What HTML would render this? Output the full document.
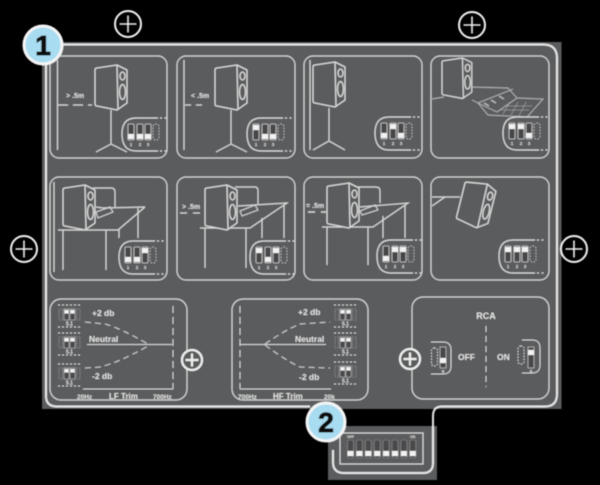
<!DOCTYPE html>
<html><head><meta charset="utf-8"><style>
html,body{margin:0;padding:0;background:#000;width:600px;height:485px;overflow:hidden}
svg{display:block}
text{font-family:"Liberation Sans",sans-serif;font-weight:bold;fill:#e4e4e4}
</style></head><body>
<svg width="600" height="485" viewBox="0 0 600 485" xmlns="http://www.w3.org/2000/svg">
<defs>
<filter id="b" x="-2%" y="-2%" width="104%" height="104%"><feGaussianBlur stdDeviation="0.6"/></filter>
<g id="spk" fill="none" stroke="#dcdcdc" stroke-width="1.3" stroke-linejoin="round">
<path d="M2,3 L22,0 L32,5 L32,38 L22,45 L2,41 Q0,41 0,39 L0,5 Q0,3 2,3Z" fill="#5a5b5d"/>
<path d="M22,0 L23,45"/>
<ellipse cx="27.5" cy="11" rx="2.5" ry="4"/>
<ellipse cx="27.5" cy="27" rx="3" ry="7.5"/>
</g>
<g id="dip">
<path d="M36,0 H14 Q0,0 0,16 Q0,33 14,33 H36" fill="#5a5b5d" stroke="#dcdcdc" stroke-width="1.2"/>
<path d="M38,0 H46 M38,33 H46" stroke="#dcdcdc" stroke-width="1.2" stroke-dasharray="2 2.5" fill="none"/>
<g fill="#47474a" stroke="#cccccc" stroke-width=".8">
<rect x="6" y="6" width="6" height="16" rx="1"/><rect x="15" y="6" width="6" height="16" rx="1"/><rect x="23" y="6" width="6" height="16" rx="1"/>
</g>
<rect x="31" y="6" width="6" height="16" rx="2.5" fill="none" stroke="#d0d0d0" stroke-width=".8" stroke-dasharray="1.5 1.5"/>
<text x="9" y="28" font-size="4.5" text-anchor="middle">1</text><text x="18" y="28" font-size="4.5" text-anchor="middle">2</text><text x="26" y="28" font-size="4.5" text-anchor="middle">3</text>
</g>
<rect id="k" width="6" height="5" fill="#f2f2f2"/>
<g id="mini">
<path d="M0,0 H22 M0,22 H22" stroke="#d8d8d8" stroke-width="1" stroke-dasharray="2 2" fill="none"/>
<g fill="#47474a" stroke="#c4c4c4" stroke-width=".6">
<rect x="6" y="4" width="5" height="11"/><rect x="12" y="4" width="5" height="11"/></g>
<g fill="none" stroke="#b4b4b4" stroke-width=".6" stroke-dasharray="1.2 1.2">
<rect x="1" y="4" width="3.5" height="11"/><rect x="18.5" y="4" width="3.5" height="11"/></g>
<rect x="6.5" y="5" width="4" height="3.5" fill="#f2f2f2"/><rect x="12.5" y="5" width="4" height="3.5" fill="#f2f2f2"/>
<text x="11.5" y="20.5" font-size="5" text-anchor="middle">5.1</text>
</g>
<g id="plus" fill="none" stroke="#f0f0f0">
<circle r="13" stroke-width="2"/><path d="M-8.5,0H8.5M0,-8.5V8.5" stroke-width="1.6"/>
</g>
<g id="plus2" stroke="#f0f0f0">
<circle r="10" stroke-width="2.2" fill="#5a5b5d"/><path d="M-6.5,0H6.5M0,-6.5V6.5" stroke-width="2.2"/>
</g>
<g id="sw8">
<rect width="6" height="18" rx="1.5" fill="#4a4a4c" stroke="#8f8f8f" stroke-width=".6"/>
<rect y="11" width="6" height="5" fill="#f2f2f2"/>
</g>
</defs>
<rect width="600" height="485" fill="#000"/>
<g filter="url(#b)">
<rect x="42" y="42" width="519.5" height="367" fill="#5a5b5d"/>
<rect x="328" y="426" width="109" height="54" fill="#5a5b5d"/>
<path d="M46,60 V396 Q46,406.5 57,406.5 H310 M60,44.5 H543 Q557,44.5 557,58 V394 Q557,406.5 545,406.5 H442 Q433,406.5 433,416 V463 Q433,473 423,473 H344 Q333,473 333,462 V450" fill="none" stroke="#e6e6e6" stroke-width="2"/>

<g fill="none" stroke="#d4d4d4" stroke-width="1.2">
<rect x="50" y="56" width="117" height="102" rx="9"/>
<rect x="177" y="56" width="118" height="102" rx="9"/>
<rect x="304" y="56" width="118" height="102" rx="9"/>
<rect x="431" y="56" width="118" height="102" rx="9"/>
<rect x="50" y="177" width="117" height="103" rx="9"/>
<rect x="177" y="177" width="118" height="103" rx="9"/>
<rect x="304" y="177" width="118" height="103" rx="9"/>
<rect x="431" y="177" width="118" height="103" rx="9"/>
<rect x="50" y="299" width="137" height="101" rx="11"/>
<rect x="232" y="299" width="136" height="101" rx="11"/>
<rect x="412" y="297" width="137" height="102" rx="11"/>
</g>

<!-- row 1 -->
<g fill="none" stroke="#d8d8d8" stroke-width="1.2">
<path d="M57.5,60V150M184,60V150M310,60V150"/>
<path d="M111,110V144M96,152L111,144L127,152M231,110V144M216,152L231,144L247,152M329,108V141M313,150L329,141L345,150"/>
<path d="M58,105H92" stroke-dasharray="10 5"/>
<path d="M185,105H206" stroke-dasharray="6 5"/>
</g>
<text x="66" y="98" font-size="7">&gt; .5m</text>
<text x="191" y="98" font-size="7">&lt; .5m</text>
<use href="#spk" x="95" y="65"/>
<use href="#spk" x="215" y="65"/>
<use href="#spk" x="313" y="62"/>
<g fill="none" stroke="#b8b8b8" stroke-width=".9">
<path d="M432,99L444,97M472,100L478,103M470,87L508,88L517,98L543,99L527,117L488,115L478,103L513,89"/>
<path d="M478,103L497,112L517,98"/>
<path d="M505,106L532,106M501,110L529,110M510,102L503,114M518,102L511,115M526,102L519,116" stroke-width=".5"/>
<path d="M484,103l5,3M491,100l5,3M499,96l5,3" stroke-width="1.6"/>
</g>
<g transform="translate(442,58) scale(.93,.9)"><use href="#spk"/></g>

<!-- row 2 -->
<g fill="none" stroke="#d8d8d8" stroke-width="1.2">
<path d="M54,182V272"/>
<path d="M93,188H111Q115,188 115,192V208M96,207L103,208L145,207M58,230H118L145,207M63,230V270M106,230V270M119,229V238M138,208V238"/>
<path d="M96,212L110,207L113,212L98,218Z" stroke-width="1"/>
<path d="M235,187H255Q258,187 258,191V205M238,206L287,203L250,228H200M205,228V268M246,228V268M262,218V238M284,205V238"/>
<path d="M240,211L255,205L258,210L242,216Z" stroke-width="1"/>
<path d="M180,213H202" stroke-dasharray="7 6"/>
<path d="M358,187H376Q380,187 380,191V203M360,207L408,203L373,227H322M327,227V265M368,227V265M383,216V238M405,205V238"/>
<path d="M360,211L375,205L378,210L362,215Z" stroke-width="1"/>
<path d="M308,212H326" stroke-dasharray="7 6" stroke-width="1.6"/>
<path d="M432,197H460M432,206L445,197"/>
</g>
<text x="182" y="209" font-size="7">&gt; .5m</text>
<text x="306" y="208" font-size="7">= .5m</text>
<use href="#spk" x="63" y="185"/>
<use href="#spk" x="205" y="185"/>
<use href="#spk" x="327" y="183"/>
<g transform="rotate(14 476 205) translate(460,182)"><use href="#spk"/></g>

<!-- dips -->
<use href="#dip" x="122" y="118"/><use href="#k" x="128" y="134"/><use href="#k" x="137" y="134"/><use href="#k" x="145" y="134"/>
<use href="#dip" x="247" y="118"/><use href="#k" x="253" y="125"/><use href="#k" x="262" y="134"/><use href="#k" x="270" y="134"/>
<use href="#dip" x="375" y="117"/><use href="#k" x="381" y="133"/><use href="#k" x="390" y="124"/><use href="#k" x="398" y="133"/>
<use href="#dip" x="503" y="117"/><use href="#k" x="509" y="124"/><use href="#k" x="518" y="124"/><use href="#k" x="526" y="133"/>
<use href="#dip" x="119" y="241"/><use href="#k" x="125" y="257"/><use href="#k" x="134" y="257"/><use href="#k" x="142" y="248"/>
<use href="#dip" x="250" y="241"/><use href="#k" x="256" y="248"/><use href="#k" x="265" y="257"/><use href="#k" x="273" y="248"/>
<use href="#dip" x="377" y="240"/><use href="#k" x="383" y="256"/><use href="#k" x="392" y="247"/><use href="#k" x="400" y="247"/>
<use href="#dip" x="499" y="240"/><use href="#k" x="505" y="247"/><use href="#k" x="514" y="247"/><use href="#k" x="522" y="247"/>

<!-- LF -->
<use href="#mini" x="58" y="305"/><use href="#mini" x="58" y="333"/><use href="#mini" x="58" y="364"/>
<g fill="none" stroke="#d4d4d4" stroke-width="1">
<path d="M85,322L105,324Q120,328 148,344M85,368L100,367Q120,362 148,346" stroke-dasharray="6 4"/>
<path d="M87,344.5H172"/>
<path d="M173,306V389" stroke-dasharray="7 4"/>
<path d="M83,389H173"/>
<path d="M240,306V389" stroke-dasharray="7 4"/>
<path d="M240,389H331"/>
<path d="M240,344.5H326"/>
<path d="M265,344Q285,330 300,324L330,322M265,345Q285,360 300,367L330,368" stroke-dasharray="6 4"/>
</g>
<text x="92" y="316" font-size="8.5">+2 db</text>
<text x="89" y="342" font-size="8.5">Neutral</text>
<text x="92" y="379" font-size="8.5">-2 db</text>
<text x="77" y="399" font-size="6.5">20Hz</text>
<text x="109" y="399" font-size="8">LF Trim</text>
<text x="153" y="399" font-size="6.5">700Hz</text>
<!-- HF -->
<use href="#mini" x="334" y="305"/><use href="#mini" x="334" y="333"/><use href="#mini" x="334" y="362"/>
<text x="298" y="315" font-size="8.5">+2 db</text>
<text x="295" y="342" font-size="8.5">Neutral</text>
<text x="299" y="380" font-size="8.5">-2 db</text>
<text x="238" y="399" font-size="6.5">700Hz</text>
<text x="273" y="399" font-size="8">HF Trim</text>
<text x="324" y="399" font-size="6.5">20k</text>

<!-- RCA -->
<text x="486" y="319" font-size="9" text-anchor="middle">RCA</text>
<text x="458" y="360" font-size="8.5">OFF</text>
<text x="497" y="360" font-size="8.5">ON</text>
<path d="M486,326V387" stroke="#d4d4d4" stroke-width="1" stroke-dasharray="6 4" fill="none"/>
<g fill="none" stroke="#d8d8d8" stroke-width="1">
<path d="M431,342H443Q451,342 451,350V366Q451,374 443,374H431"/>
<rect x="431.5" y="348" width="6" height="18" rx="2.5" stroke-dasharray="1.5 1.5"/>
<rect x="518" y="346" width="6" height="18" rx="2.5" stroke-dasharray="1.5 1.5"/>
<path d="M522,340H532Q540,340 540,348V365Q540,373 532,373H522"/>
</g>
<rect x="440" y="347" width="6" height="21" fill="#47474a" stroke="#c8c8c8" stroke-width=".7"/>
<rect x="440" y="358" width="6" height="5" fill="#f2f2f2"/>
<text x="443" y="373" font-size="4.5" text-anchor="middle">9</text>
<rect x="528" y="347" width="6" height="21" fill="#47474a" stroke="#c8c8c8" stroke-width=".7"/>
<rect x="528" y="350" width="6" height="5" fill="#f2f2f2"/>
<text x="531" y="373" font-size="4.5" text-anchor="middle">9</text>

<!-- bottom dip -->
<rect x="340" y="433" width="83" height="31" fill="none" stroke="#d8d8d8" stroke-width="1.2"/>
<text x="347" y="438" font-size="3.5">OFF</text>
<text x="410" y="438" font-size="3.5">ON</text>
<use href="#sw8" x="347.5" y="440"/><use href="#sw8" x="356.4" y="440"/><use href="#sw8" x="365.3" y="440"/><use href="#sw8" x="374.2" y="440"/><use href="#sw8" x="383.1" y="440"/><use href="#sw8" x="392" y="440"/><use href="#sw8" x="400.9" y="440"/><use href="#sw8" x="409.8" y="440"/>

<!-- plus markers -->
<use href="#plus" x="128" y="24"/><use href="#plus" x="472" y="25"/><use href="#plus" x="24" y="249"/><use href="#plus" x="574" y="249"/>
<use href="#plus2" x="192" y="360"/><use href="#plus2" x="410" y="359"/>

<!-- badges -->
<circle cx="43" cy="45" r="19" fill="#a8dcf0" stroke="#f4f4f4" stroke-width="3"/>
<text x="43" y="55" font-size="28" text-anchor="middle" style="font-family:'Liberation Sans',sans-serif;font-weight:bold;fill:#0a0a0a;stroke:#0a0a0a;stroke-width:1">1</text>
<circle cx="326" cy="422" r="19" fill="#a8dcf0" stroke="#f4f4f4" stroke-width="3"/>
<text x="326" y="432" font-size="28" text-anchor="middle" style="font-family:'Liberation Sans',sans-serif;font-weight:bold;fill:#0a0a0a;stroke:#0a0a0a;stroke-width:1">2</text>
</g>
</svg>
</body></html>
